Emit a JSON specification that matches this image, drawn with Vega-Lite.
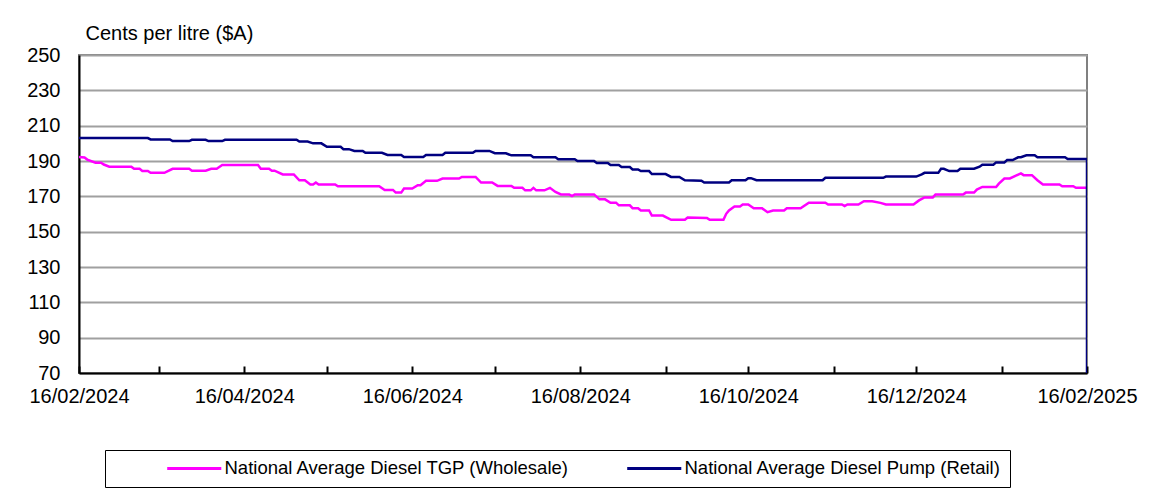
{
  "$schema": "https://vega.github.io/schema/vega-lite/v6.json",
  "width": 1008,
  "height": 318,
  "autosize": "none",
  "padding": {"left": 79, "top": 55, "right": 62, "bottom": 124},
  "background": "white",
  "config": {
    "font": "Liberation Sans",
    "view": {"stroke": "#808080", "strokeWidth": 2},
    "axis": {"labelFont": "Liberation Sans", "titleFont": "Liberation Sans", "labelColor": "black", "titleColor": "black"}
  },
  "datasets": {
    "retail": [
      {"date": "2024/02/16", "price": 203}, {"date": "2024/03/12", "price": 203},
      {"date": "2024/03/13", "price": 202.2}, {"date": "2024/03/20", "price": 202.2},
      {"date": "2024/03/21", "price": 201.3}, {"date": "2024/03/27", "price": 201.3},
      {"date": "2024/03/28", "price": 202}, {"date": "2024/04/02", "price": 202},
      {"date": "2024/04/03", "price": 201.3}, {"date": "2024/04/08", "price": 201.3},
      {"date": "2024/04/09", "price": 202}, {"date": "2024/05/05", "price": 202},
      {"date": "2024/05/06", "price": 201}, {"date": "2024/05/09", "price": 201},
      {"date": "2024/05/11", "price": 200}, {"date": "2024/05/14", "price": 200},
      {"date": "2024/05/16", "price": 198}, {"date": "2024/05/21", "price": 198},
      {"date": "2024/05/22", "price": 196.7}, {"date": "2024/05/24", "price": 196.7},
      {"date": "2024/05/26", "price": 195.7}, {"date": "2024/05/29", "price": 195.7},
      {"date": "2024/05/30", "price": 194.6}, {"date": "2024/06/05", "price": 194.6},
      {"date": "2024/06/07", "price": 193.4}, {"date": "2024/06/12", "price": 193.4},
      {"date": "2024/06/13", "price": 192.3}, {"date": "2024/06/20", "price": 192.3},
      {"date": "2024/06/21", "price": 193.4}, {"date": "2024/06/27", "price": 193.4},
      {"date": "2024/06/28", "price": 194.6}, {"date": "2024/07/08", "price": 194.6},
      {"date": "2024/07/09", "price": 195.7}, {"date": "2024/07/14", "price": 195.7},
      {"date": "2024/07/16", "price": 194.4}, {"date": "2024/07/20", "price": 194.4},
      {"date": "2024/07/22", "price": 193.2}, {"date": "2024/07/29", "price": 193.2},
      {"date": "2024/07/30", "price": 192.1}, {"date": "2024/08/07", "price": 192.1},
      {"date": "2024/08/08", "price": 191}, {"date": "2024/08/14", "price": 191},
      {"date": "2024/08/15", "price": 190}, {"date": "2024/08/21", "price": 190},
      {"date": "2024/08/22", "price": 188.9}, {"date": "2024/08/26", "price": 188.9},
      {"date": "2024/08/27", "price": 187.7}, {"date": "2024/08/30", "price": 187.7},
      {"date": "2024/08/31", "price": 186.6}, {"date": "2024/09/03", "price": 186.6},
      {"date": "2024/09/04", "price": 185.2}, {"date": "2024/09/06", "price": 185.2},
      {"date": "2024/09/07", "price": 184.3}, {"date": "2024/09/10", "price": 184.3},
      {"date": "2024/09/11", "price": 182.6}, {"date": "2024/09/16", "price": 182.6},
      {"date": "2024/09/18", "price": 181}, {"date": "2024/09/21", "price": 181},
      {"date": "2024/09/23", "price": 179.1}, {"date": "2024/09/29", "price": 178.8},
      {"date": "2024/09/30", "price": 177.8}, {"date": "2024/10/09", "price": 177.8},
      {"date": "2024/10/10", "price": 179.1}, {"date": "2024/10/15", "price": 179.1},
      {"date": "2024/10/16", "price": 180.3}, {"date": "2024/10/17", "price": 180.3},
      {"date": "2024/10/19", "price": 179.1}, {"date": "2024/11/12", "price": 179.1},
      {"date": "2024/11/13", "price": 180.5}, {"date": "2024/12/04", "price": 180.5},
      {"date": "2024/12/05", "price": 181.2}, {"date": "2024/12/16", "price": 181.2},
      {"date": "2024/12/18", "price": 182.4}, {"date": "2024/12/19", "price": 183.3},
      {"date": "2024/12/24", "price": 183.3}, {"date": "2024/12/25", "price": 185.6},
      {"date": "2024/12/26", "price": 185.6}, {"date": "2024/12/28", "price": 184.3},
      {"date": "2024/12/31", "price": 184.3}, {"date": "2025/01/01", "price": 185.6},
      {"date": "2025/01/06", "price": 185.6}, {"date": "2025/01/08", "price": 186.8},
      {"date": "2025/01/09", "price": 187.9}, {"date": "2025/01/13", "price": 187.9},
      {"date": "2025/01/14", "price": 189.2}, {"date": "2025/01/17", "price": 189.2},
      {"date": "2025/01/18", "price": 190.5}, {"date": "2025/01/20", "price": 190.5},
      {"date": "2025/01/22", "price": 192.1}, {"date": "2025/01/23", "price": 192.1},
      {"date": "2025/01/25", "price": 193.2}, {"date": "2025/01/28", "price": 193.2},
      {"date": "2025/01/29", "price": 192.1}, {"date": "2025/02/08", "price": 192.1},
      {"date": "2025/02/09", "price": 191.1}, {"date": "2025/02/16", "price": 191.1},
      {"date": "2025/02/16", "price": 0}
    ],
    "wholesale": [
      {"date": "2024/02/16", "price": 192.3}, {"date": "2024/02/18", "price": 192},
      {"date": "2024/02/19", "price": 190.8}, {"date": "2024/02/22", "price": 189},
      {"date": "2024/02/24", "price": 189}, {"date": "2024/02/25", "price": 188},
      {"date": "2024/02/27", "price": 186.8}, {"date": "2024/03/06", "price": 186.8},
      {"date": "2024/03/07", "price": 185.6}, {"date": "2024/03/09", "price": 185.6},
      {"date": "2024/03/10", "price": 184.3}, {"date": "2024/03/12", "price": 184.3},
      {"date": "2024/03/13", "price": 183.3}, {"date": "2024/03/18", "price": 183.3},
      {"date": "2024/03/21", "price": 185.6}, {"date": "2024/03/27", "price": 185.6},
      {"date": "2024/03/28", "price": 184.5}, {"date": "2024/04/02", "price": 184.5},
      {"date": "2024/04/04", "price": 185.6}, {"date": "2024/04/06", "price": 185.6},
      {"date": "2024/04/08", "price": 187.7}, {"date": "2024/04/21", "price": 187.7},
      {"date": "2024/04/22", "price": 185.6}, {"date": "2024/04/25", "price": 185.6},
      {"date": "2024/04/26", "price": 184.5}, {"date": "2024/04/27", "price": 184.5},
      {"date": "2024/04/30", "price": 182.4}, {"date": "2024/05/04", "price": 182.4},
      {"date": "2024/05/06", "price": 179.1}, {"date": "2024/05/08", "price": 179.1},
      {"date": "2024/05/10", "price": 176.7}, {"date": "2024/05/11", "price": 176.7},
      {"date": "2024/05/12", "price": 177.8}, {"date": "2024/05/13", "price": 176.7},
      {"date": "2024/05/19", "price": 176.7}, {"date": "2024/05/20", "price": 175.7},
      {"date": "2024/06/04", "price": 175.7}, {"date": "2024/06/06", "price": 173.6},
      {"date": "2024/06/09", "price": 173.6}, {"date": "2024/06/10", "price": 172.1},
      {"date": "2024/06/12", "price": 172.1}, {"date": "2024/06/13", "price": 174.4},
      {"date": "2024/06/16", "price": 174.4}, {"date": "2024/06/18", "price": 176.3},
      {"date": "2024/06/19", "price": 176.3}, {"date": "2024/06/21", "price": 178.8},
      {"date": "2024/06/25", "price": 178.8}, {"date": "2024/06/27", "price": 180.1},
      {"date": "2024/07/03", "price": 180.1}, {"date": "2024/07/04", "price": 181},
      {"date": "2024/07/09", "price": 181}, {"date": "2024/07/11", "price": 177.8},
      {"date": "2024/07/15", "price": 177.8}, {"date": "2024/07/17", "price": 175.9},
      {"date": "2024/07/22", "price": 175.9}, {"date": "2024/07/23", "price": 174.8},
      {"date": "2024/07/26", "price": 174.8}, {"date": "2024/07/27", "price": 173.4},
      {"date": "2024/07/29", "price": 173.4}, {"date": "2024/07/30", "price": 174.8},
      {"date": "2024/07/31", "price": 173.4}, {"date": "2024/08/03", "price": 173.4},
      {"date": "2024/08/05", "price": 174.8}, {"date": "2024/08/07", "price": 172.5},
      {"date": "2024/08/09", "price": 171.1}, {"date": "2024/08/12", "price": 171.1},
      {"date": "2024/08/13", "price": 170.2}, {"date": "2024/08/14", "price": 171.1},
      {"date": "2024/08/21", "price": 171.1}, {"date": "2024/08/23", "price": 168.3},
      {"date": "2024/08/25", "price": 168.3}, {"date": "2024/08/27", "price": 166.4},
      {"date": "2024/08/29", "price": 166.4}, {"date": "2024/08/30", "price": 164.9},
      {"date": "2024/09/03", "price": 164.9}, {"date": "2024/09/04", "price": 163.3},
      {"date": "2024/09/06", "price": 163.3}, {"date": "2024/09/07", "price": 162},
      {"date": "2024/09/10", "price": 162}, {"date": "2024/09/11", "price": 159.1},
      {"date": "2024/09/15", "price": 159.1}, {"date": "2024/09/18", "price": 156.7},
      {"date": "2024/09/23", "price": 156.7}, {"date": "2024/09/24", "price": 158},
      {"date": "2024/10/01", "price": 157.8}, {"date": "2024/10/02", "price": 156.7},
      {"date": "2024/10/07", "price": 156.7}, {"date": "2024/10/08", "price": 160.1},
      {"date": "2024/10/09", "price": 162}, {"date": "2024/10/11", "price": 164.3},
      {"date": "2024/10/13", "price": 164.3}, {"date": "2024/10/14", "price": 165.4},
      {"date": "2024/10/16", "price": 165.4}, {"date": "2024/10/18", "price": 163.3},
      {"date": "2024/10/21", "price": 163.3}, {"date": "2024/10/23", "price": 161},
      {"date": "2024/10/25", "price": 162}, {"date": "2024/10/29", "price": 162},
      {"date": "2024/10/30", "price": 163.3}, {"date": "2024/11/04", "price": 163.3},
      {"date": "2024/11/07", "price": 166.4}, {"date": "2024/11/13", "price": 166.4},
      {"date": "2024/11/14", "price": 165.4}, {"date": "2024/11/19", "price": 165.4},
      {"date": "2024/11/20", "price": 164.5}, {"date": "2024/11/21", "price": 165.4},
      {"date": "2024/11/25", "price": 165.4}, {"date": "2024/11/27", "price": 167.2},
      {"date": "2024/11/30", "price": 167.2}, {"date": "2024/12/03", "price": 166.3},
      {"date": "2024/12/05", "price": 165.4}, {"date": "2024/12/15", "price": 165.4},
      {"date": "2024/12/17", "price": 167.7}, {"date": "2024/12/19", "price": 169.4},
      {"date": "2024/12/22", "price": 169.4}, {"date": "2024/12/23", "price": 171},
      {"date": "2025/01/02", "price": 171}, {"date": "2025/01/03", "price": 172.1},
      {"date": "2025/01/06", "price": 172.1}, {"date": "2025/01/07", "price": 173.8},
      {"date": "2025/01/09", "price": 175.3}, {"date": "2025/01/14", "price": 175.3},
      {"date": "2025/01/15", "price": 177.2}, {"date": "2025/01/17", "price": 180.1},
      {"date": "2025/01/19", "price": 180.1}, {"date": "2025/01/21", "price": 181.6},
      {"date": "2025/01/23", "price": 183}, {"date": "2025/01/24", "price": 182},
      {"date": "2025/01/27", "price": 182}, {"date": "2025/01/29", "price": 179.1},
      {"date": "2025/01/31", "price": 176.7}, {"date": "2025/02/06", "price": 176.7},
      {"date": "2025/02/07", "price": 175.7}, {"date": "2025/02/11", "price": 175.7},
      {"date": "2025/02/12", "price": 174.8}, {"date": "2025/02/16", "price": 174.8}
    ]
  },
  "encoding": {
    "x": {
      "field": "date", "type": "temporal",
      "scale": {"domain": [{"year": 2024, "month": 2, "date": 16}, {"year": 2025, "month": 2, "date": 16}]},
      "axis": {
        "title": null,
        "grid": false,
        "values": [
          {"year": 2024, "month": 2, "date": 16}, {"year": 2024, "month": 3, "date": 16},
          {"year": 2024, "month": 4, "date": 16}, {"year": 2024, "month": 5, "date": 16},
          {"year": 2024, "month": 6, "date": 16}, {"year": 2024, "month": 7, "date": 16},
          {"year": 2024, "month": 8, "date": 16}, {"year": 2024, "month": 9, "date": 16},
          {"year": 2024, "month": 10, "date": 16}, {"year": 2024, "month": 11, "date": 16},
          {"year": 2024, "month": 12, "date": 16}, {"year": 2025, "month": 1, "date": 16},
          {"year": 2025, "month": 2, "date": 16}
        ],
        "labelExpr": "month(datum.value) % 2 == 1 ? timeFormat(datum.value, '%d/%m/%Y') : ''",
        "labelFontSize": 20,
        "labelPadding": 20,
        "labelOverlap": false,
        "labelFlush": false,
        "domainColor": "black",
        "domainWidth": 2,
        "tickColor": "black",
        "tickWidth": 2,
        "tickSize": -7
      }
    },
    "y": {
      "field": "price", "type": "quantitative",
      "scale": {"domain": [70, 250], "nice": false, "zero": false},
      "axis": {
        "values": [70, 90, 110, 130, 150, 170, 190, 210, 230, 250],
        "title": "Cents per litre ($A)",
        "titleAngle": 0,
        "titleAlign": "left",
        "titleBaseline": "middle",
        "titleX": 6,
        "titleY": -22,
        "titleFontSize": 20,
        "titleFontWeight": "normal",
        "labelFontSize": 20,
        "labelPadding": 19,
        "ticks": false,
        "grid": true,
        "gridColor": "#a0a0a0",
        "gridWidth": 2,
        "domainColor": "black",
        "domainWidth": 2
      }
    }
  },
  "layer": [
    {
      "data": {"name": "wholesale"},
      "mark": {"type": "line", "strokeWidth": 2.5, "clip": true},
      "encoding": {
        "color": {
          "datum": "National Average Diesel TGP (Wholesale)",
          "type": "nominal",
          "scale": {
            "domain": ["National Average Diesel TGP (Wholesale)", "National Average Diesel Pump (Retail)"],
            "range": ["#FF00FF", "#000080"]
          },
          "legend": {
            "title": null,
            "orient": "none",
            "legendX": 26,
            "legendY": 395,
            "direction": "horizontal",
            "strokeColor": "black",
            "padding": 9,
            "symbolType": "M-5,0H5",
            "symbolSize": 117,
            "symbolStrokeWidth": 3,
            "symbolOffset": 71,
            "labelFontSize": 18.5,
            "labelFont": "Liberation Sans",
            "labelColor": "black",
            "labelLimit": 500,
            "labelOffset": 21,
            "columnPadding": 4,
            "gridAlign": "all"
          }
        }
      }
    },
    {
      "data": {"name": "retail"},
      "mark": {"type": "line", "strokeWidth": 2.5, "clip": true},
      "encoding": {
        "color": {"datum": "National Average Diesel Pump (Retail)", "type": "nominal"}
      }
    }
  ]
}
